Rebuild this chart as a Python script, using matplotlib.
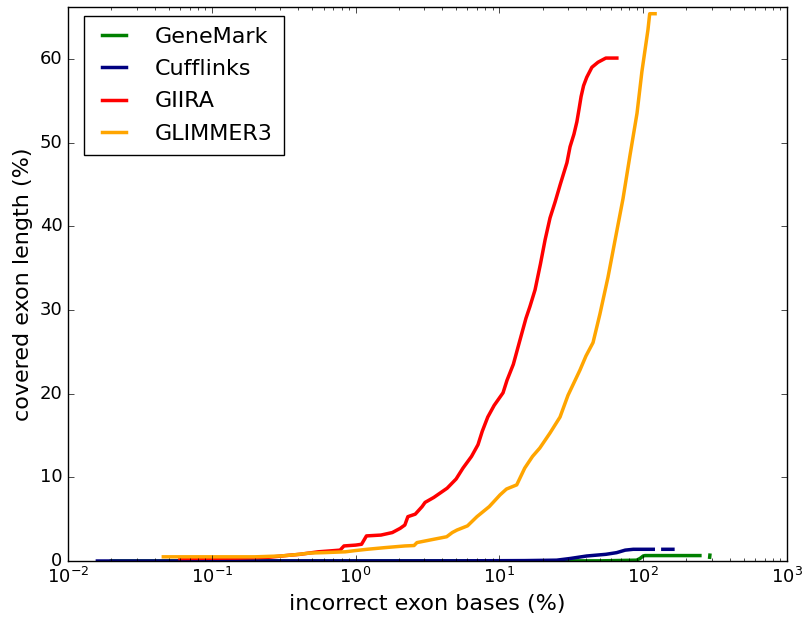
import numpy as np
import matplotlib
matplotlib.use('Agg')
import matplotlib.pyplot as plt

plt.style.use('classic')

# GeneMark
gm_x = [0.02, 50, 90, 95, 100, 103, 248, np.nan, 290, 291]
gm_y = [0.0, 0.02, 0.1, 0.3, 0.6, 0.65, 0.65, np.nan, 0.45, 0.7]

# Cufflinks
cf_x = [0.016, 5.0, 15, 25, 31, 40.5, 55, 65.4, 75, 85.3, 117.5, np.nan, 137, 161]
cf_y = [0.0, 0.02, 0.05, 0.1, 0.3, 0.6, 0.8, 1.0, 1.3, 1.4, 1.4, np.nan, 1.4, 1.4]

# GIIRA
gi_x = [0.06, 0.15, 0.25, 0.35, 0.41, 0.55, 0.78, 0.83, 1.0, 1.1, 1.19, 1.5, 1.8,
        2.04, 2.2, 2.31, 2.6, 2.9, 3.04, 3.5, 4.33, 5.0, 5.58, 6.4, 7.1, 7.6, 8.3,
        9.2, 10.6, 11.3, 12.5, 13.9, 15.3, 16.3, 17.7, 19.3, 20.8, 22.5, 24.4,
        26.5, 29.5, 31, 33, 34.6, 35.8, 37, 38.5, 40.5, 44, 48.5, 55, 65.6]
gi_y = [0.3, 0.35, 0.45, 0.7, 0.8, 1.1, 1.3, 1.8, 1.9, 2.0, 3.0, 3.1, 3.4,
        3.9, 4.3, 5.3, 5.6, 6.5, 7.0, 7.6, 8.7, 9.8, 11.1, 12.5, 13.9, 15.5, 17.2,
        18.6, 20.1, 21.6, 23.5, 26.4, 29.0, 30.4, 32.4, 35.5, 38.4, 41.0, 42.9,
        45.0, 47.6, 49.5, 51.0, 52.5, 54.0, 55.5, 56.8, 57.8, 59.0, 59.6, 60.1, 60.1]

# GLIMMER3
gl_x = [0.046, 0.1, 0.2, 0.3, 0.38, 0.48, 0.6, 0.85, 1.0, 1.2, 1.6, 2.2, 2.55,
        2.67, 3.5, 4.3, 4.7, 5.07, 6.0, 6.98, 8.5, 10.1, 11.2, 13.2, 15, 17.0,
        19.1, 22.5, 26.4, 30, 36.3, 40, 44.8, 50, 56.9, 64, 72.4, 81, 90.6, 98,
        108, 111, 121]
gl_y = [0.5, 0.5, 0.5, 0.6, 0.75, 0.95, 1.0, 1.1, 1.25, 1.4, 1.6, 1.8, 1.85,
        2.2, 2.6, 2.9, 3.4, 3.7, 4.2, 5.3, 6.5, 7.9, 8.6, 9.1, 11.1, 12.5,
        13.5, 15.3, 17.2, 19.8, 22.8, 24.5, 26.1, 29.5, 33.9, 38.5, 43.3, 48.5,
        53.5, 58.5, 63.5, 65.4, 65.4]

fig = plt.figure(figsize=(8.05, 6.21), dpi=100, facecolor='white')
ax = fig.add_axes([0.0845, 0.0966, 0.8931, 0.8921])

ax.plot(gm_x, gm_y, color='#008000', lw=2.5, label='GeneMark')
ax.plot(cf_x, cf_y, color='#000080', lw=2.5, label='Cufflinks')
ax.plot(gi_x, gi_y, color='red', lw=2.5, label='GIIRA')
ax.plot(gl_x, gl_y, color='orange', lw=2.5, label='GLIMMER3')

ax.set_xscale('log')
ax.set_xlim(1e-2, 1e3)
ax.set_ylim(0, 66.2)
ax.set_yticks([0, 10, 20, 30, 40, 50, 60])
ax.tick_params(labelsize=13)
ax.set_xlabel('incorrect exon bases (%)', fontsize=16)
ax.set_ylabel('covered exon length (%)', fontsize=16)

ax.legend(loc='upper left', bbox_to_anchor=(0.022, 0.984), borderaxespad=0,
          fontsize=16, handlelength=1.7, handletextpad=1.0, borderpad=0.5,
          labelspacing=0.55)

fig.savefig('out.png', dpi=100, facecolor='white')
